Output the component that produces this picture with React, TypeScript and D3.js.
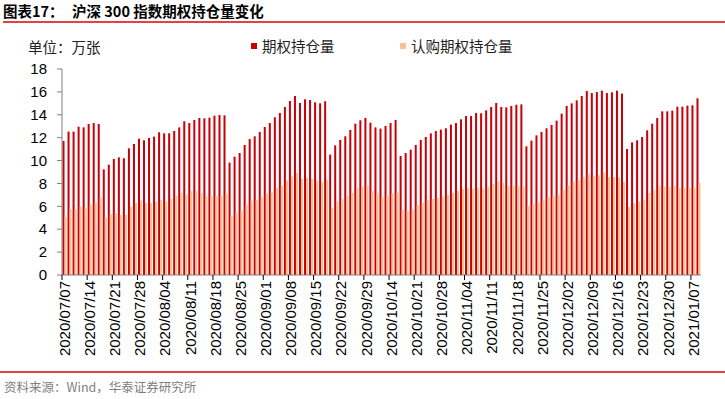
import * as d3 from 'd3'
import React from 'react';

// trading days 2020/07/07 - 2021/01/08
const dates = [
  "2020/07/07", "2020/07/08", "2020/07/09", "2020/07/10", "2020/07/13", "2020/07/14", "2020/07/15", "2020/07/16", "2020/07/17",
  "2020/07/20", "2020/07/21", "2020/07/22", "2020/07/23", "2020/07/24", "2020/07/27", "2020/07/28", "2020/07/29", "2020/07/30", "2020/07/31",
  "2020/08/03", "2020/08/04", "2020/08/05", "2020/08/06", "2020/08/07", "2020/08/10", "2020/08/11", "2020/08/12", "2020/08/13", "2020/08/14",
  "2020/08/17", "2020/08/18", "2020/08/19", "2020/08/20", "2020/08/21", "2020/08/24", "2020/08/25", "2020/08/26", "2020/08/27", "2020/08/28",
  "2020/08/31", "2020/09/01", "2020/09/02", "2020/09/03", "2020/09/04", "2020/09/07", "2020/09/08", "2020/09/09", "2020/09/10", "2020/09/11",
  "2020/09/14", "2020/09/15", "2020/09/16", "2020/09/17", "2020/09/18", "2020/09/21", "2020/09/22", "2020/09/23", "2020/09/24", "2020/09/25",
  "2020/09/28", "2020/09/29", "2020/09/30", "2020/10/09", "2020/10/12", "2020/10/13", "2020/10/14", "2020/10/15", "2020/10/16",
  "2020/10/19", "2020/10/20", "2020/10/21", "2020/10/22", "2020/10/23", "2020/10/26", "2020/10/27", "2020/10/28", "2020/10/29", "2020/10/30",
  "2020/11/02", "2020/11/03", "2020/11/04", "2020/11/05", "2020/11/06", "2020/11/09", "2020/11/10", "2020/11/11", "2020/11/12", "2020/11/13",
  "2020/11/16", "2020/11/17", "2020/11/18", "2020/11/19", "2020/11/20", "2020/11/23", "2020/11/24", "2020/11/25", "2020/11/26", "2020/11/27",
  "2020/11/30", "2020/12/01", "2020/12/02", "2020/12/03", "2020/12/04", "2020/12/07", "2020/12/08", "2020/12/09", "2020/12/10", "2020/12/11",
  "2020/12/14", "2020/12/15", "2020/12/16", "2020/12/17", "2020/12/18", "2020/12/21", "2020/12/22", "2020/12/23", "2020/12/24", "2020/12/25",
  "2020/12/28", "2020/12/29", "2020/12/30", "2020/12/31", "2021/01/04", "2021/01/05", "2021/01/06", "2021/01/07", "2021/01/08",
]

// 期权持仓量 (万张)
const totalOI = [
  11.71, 12.53, 12.53, 12.96, 12.90, 13.20, 13.28, 13.20, 9.23,
  9.64, 10.14, 10.28, 10.20, 11.07, 11.45, 11.91, 11.77, 11.97, 12.09,
  12.47, 12.38, 12.38, 12.58, 12.90, 13.43, 13.28, 13.55, 13.72, 13.69,
  13.75, 13.92, 13.98, 13.95, 9.82, 10.34, 10.66, 11.36, 11.88, 12.12,
  12.50, 12.93, 13.28, 13.78, 14.16, 14.68, 15.20, 15.64, 15.03, 15.35,
  15.29, 15.09, 15.00, 15.18, 10.52, 11.33, 11.80, 12.12, 12.67, 13.22,
  13.52, 13.72, 13.31, 12.90, 12.79, 13.02, 13.28, 13.55, 10.40,
  10.66, 10.95, 11.36, 11.80, 12.06, 12.38, 12.58, 12.70, 12.82, 13.14,
  13.28, 13.60, 13.89, 13.89, 14.16, 14.13, 14.39, 14.68, 15.03, 14.68,
  14.65, 14.77, 14.88, 14.91, 11.24, 11.74, 12.20, 12.50, 12.82, 13.11,
  13.49, 14.10, 14.77, 15.00, 15.26, 15.64, 16.08, 15.90, 15.99, 16.11,
  15.90, 15.96, 16.11, 15.85, 11.01, 11.59, 11.77, 12.06, 12.64, 13.22,
  13.72, 14.30, 14.30, 14.36, 14.71, 14.71, 14.80, 14.83, 15.44,
]

// 认购期权持仓量 (万张)
const callOI = [
  5.07, 5.74, 5.71, 5.97, 5.83, 6.15, 6.29, 6.76, 5.01,
  5.33, 5.42, 5.24, 5.24, 5.97, 6.29, 6.52, 6.29, 6.29, 6.41,
  6.55, 6.41, 6.64, 6.90, 7.17, 6.99, 7.34, 7.37, 7.14, 6.90,
  6.90, 6.90, 6.93, 7.08, 5.16, 5.48, 5.62, 6.12, 6.52, 6.55,
  6.82, 7.11, 7.22, 7.60, 7.81, 8.24, 8.62, 8.91, 8.39, 8.48,
  8.39, 8.21, 8.16, 8.30, 5.88, 6.41, 6.64, 6.90, 7.17, 7.60,
  7.72, 7.81, 7.34, 7.17, 6.85, 6.93, 7.11, 7.22, 5.68,
  5.59, 5.74, 6.09, 6.29, 6.55, 6.64, 6.73, 6.85, 6.99, 7.17,
  7.34, 7.52, 7.60, 7.52, 7.60, 7.52, 7.69, 7.95, 8.21, 8.04,
  7.81, 7.81, 7.78, 7.72, 6.03, 6.20, 6.38, 6.58, 6.79, 6.90,
  7.02, 7.43, 7.81, 8.13, 8.30, 8.56, 8.83, 8.65, 8.71, 8.94,
  8.56, 8.56, 8.51, 8.13, 5.94, 6.26, 6.41, 6.58, 7.17, 7.43,
  7.78, 7.72, 7.69, 7.81, 7.60, 7.60, 7.60, 7.60, 8.04,
]

const yTicks = [0, 2, 4, 6, 8, 10, 12, 14, 16, 18]
const seriesNames = ["期权持仓量", "认购期权持仓量"]
const colors = ["#C8000A", "#FAC090"]

const W = 725, H = 399
const cjk = '"Noto Sans CJK SC", sans-serif'
const num = '"Liberation Sans", Arial, sans-serif'

export default function App() {
  const x = d3.scaleBand<string>().domain(dates).range([62, 701]).paddingInner(0.2).paddingOuter(0.1)
  const y = d3.scaleLinear().domain([0, 18]).range([275, 69])
  const sub = d3.scaleBand<number>().domain([0, 1]).range([0, x.bandwidth()])
  const step = x.step()
  const every5 = dates.filter((d, i) => i % 5 === 0)
  const series = [totalOI, callOI]

  return (
    <svg width={W} height={H} style={{ position: 'absolute', left: 0, top: 0, background: '#fff' }}>
      <text x={3} y={17} fontFamily={cjk} fontSize={14.5} fontWeight="bold" fill="#000">图表17：</text>
      <text x={72} y={17} fontFamily={cjk} fontSize={14.5} fontWeight="bold" fill="#000">沪深 300 指数期权持仓量变化</text>
      <line x1={3} x2={W} y1={22} y2={22} stroke="#E00000" strokeWidth={1.5} />

      <text x={28} y={53} fontFamily={cjk} fontSize={14.5} fill="#222">单位：万张</text>

      {seriesNames.map((s, i) => (
        <g key={s} transform={`translate(${i === 0 ? 251 : 400},0)`}>
          <rect x={0} y={43} width={6} height={6} fill={colors[i]} />
          <text x={11} y={52} fontFamily={cjk} fontSize={14.5} fill="#222">{s}</text>
        </g>
      ))}

      {series.map((vals, si) => (
        <g key={si} fill={colors[si]}>
          {vals.map((v, i) => (
            <rect key={i} x={(x(dates[i]) ?? 0) + (sub(si) ?? 0)} y={y(v)} width={sub.bandwidth()} height={y(0) - y(v)} />
          ))}
        </g>
      ))}

      {/* y axis */}
      <line x1={62} x2={62} y1={y(18)} y2={y(0)} stroke="#808080" />
      {yTicks.map(t => (
        <g key={t}>
          <line x1={57} x2={62} y1={y(t)} y2={y(t)} stroke="#808080" />
          <text x={47} y={y(t)} dy="0.35em" textAnchor="end" fontFamily={num} fontSize={15} fill="#000">{t}</text>
        </g>
      ))}

      {/* x axis */}
      <line x1={62} x2={701} y1={y(0)} y2={y(0)} stroke="#808080" />
      {every5.map((d, k) => {
        const tx = 62 + k * 5 * step
        return <line key={d} x1={tx} x2={tx} y1={y(0)} y2={y(0) + 5} stroke="#000" />
      })}
      {every5.map(d => {
        const cx = (x(d) ?? 0) + x.bandwidth() / 2
        return (
          <text key={d} transform={`translate(${cx},281) rotate(-90)`} dy="0.35em" textAnchor="end"
            fontFamily={num} fontSize={15} fill="#000">{d}</text>
        )
      })}

      <line x1={0} x2={W} y1={372} y2={372} stroke="#E00000" strokeWidth={1.5} />
      <text x={4} y={392} fontFamily={cjk} fontSize={12.5} fill="#808080">资料来源：Wind，华泰证券研究所</text>
    </svg>
  )
}
